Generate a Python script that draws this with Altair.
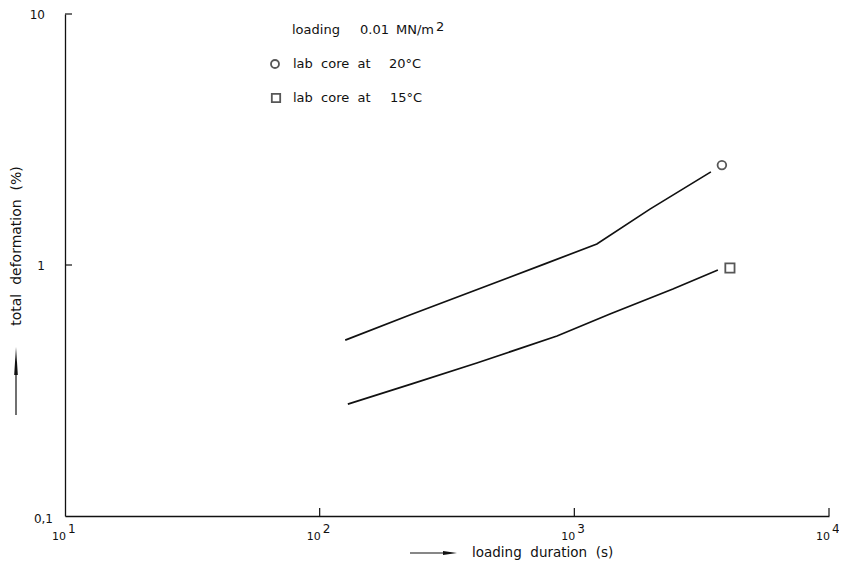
import altair as alt
import pandas as pd

# ---- data ----
dur_20 = [126, 226, 766, 1226, 1981, 3438]
def_20 = [0.502, 0.632, 1.01, 1.213, 1.67, 2.35]
dur_15 = [129, 230, 414, 855, 1380, 2438, 3662]
def_15 = [0.279, 0.336, 0.407, 0.521, 0.638, 0.802, 0.955]
mark_20_x, mark_20_y = [3797], [2.50]
mark_15_x, mark_15_y = [4083], [0.973]

x_tick_vals = [10, 100, 1000, 10000]
x_tick_base = ["10", "10", "10", "10"]
x_tick_exp = ["1", "2", "3", "4"]
y_tick_vals = [10, 1]
y_tick_labels = ["10", "1"]
y_low_val = [0.1]
y_low_label = ["0,1"]

W, H = 764, 502
FONT = "DejaVu Sans"
BLACK = "#111111"
SP = "\u00a0"

xs = alt.Scale(type="log", domain=[10, 10000], nice=False)
ys = alt.Scale(type="log", domain=[0.1, 10], nice=False)

lines_df = pd.DataFrame({
    "dur": dur_20 + dur_15,
    "def": def_20 + def_15,
    "series": ["20"] * len(dur_20) + ["15"] * len(dur_15),
})

axis_common = dict(domainColor=BLACK, domainWidth=1.3, ticks=False, labels=False,
                   grid=False, title=None)

lines = alt.Chart(lines_df).mark_line(color=BLACK, strokeWidth=1.7).encode(
    x=alt.X("dur:Q", scale=xs, axis=alt.Axis(**axis_common)),
    y=alt.Y("def:Q", scale=ys, axis=alt.Axis(**axis_common)),
    detail="series:N",
)

circ = alt.Chart(pd.DataFrame({"x": mark_20_x, "y": mark_20_y})).mark_point(
    shape="circle", filled=False, color=BLACK, size=75, strokeWidth=1.8
).encode(x=alt.X("x:Q", scale=xs), y=alt.Y("y:Q", scale=ys))

sq = alt.Chart(pd.DataFrame({"x": mark_15_x, "y": mark_15_y})).mark_point(
    shape="square", filled=False, color=BLACK, size=85, strokeWidth=1.8
).encode(x=alt.X("x:Q", scale=xs), y=alt.Y("y:Q", scale=ys))

# inward ticks
xt_df = pd.DataFrame({"v": x_tick_vals[1:]})
xticks = alt.Chart(xt_df).mark_rule(color=BLACK, strokeWidth=1.2).encode(
    x=alt.X("v:Q", scale=xs), y=alt.value(H), y2=alt.value(H - 8))
yt_df = pd.DataFrame({"v": y_tick_vals})
yticks = alt.Chart(yt_df).mark_rule(color=BLACK, strokeWidth=1.2).encode(
    y=alt.Y("v:Q", scale=ys), x=alt.value(0), x2=alt.value(7))

# tick labels
xl_df = pd.DataFrame({"v": x_tick_vals, "base": x_tick_base, "exp": x_tick_exp})
xlab_base = alt.Chart(xl_df).mark_text(
    align="right", baseline="middle", font=FONT, fontSize=11, color=BLACK, dx=1
).encode(x=alt.X("v:Q", scale=xs), y=alt.value(H + 21), text="base:N")
xlab_exp = alt.Chart(xl_df).mark_text(
    align="left", baseline="middle", font=FONT, fontSize=12, color=BLACK, dx=3
).encode(x=alt.X("v:Q", scale=xs), y=alt.value(H + 13), text="exp:N")

yl_df = pd.DataFrame({"v": y_tick_vals, "lab": y_tick_labels})
ylab = alt.Chart(yl_df).mark_text(
    align="right", baseline="middle", font=FONT, fontSize=12, color=BLACK, dy=1
).encode(y=alt.Y("v:Q", scale=ys), x=alt.value(-20), text="lab:N")
yl2_df = pd.DataFrame({"v": y_low_val, "lab": y_low_label})
ylab2 = alt.Chart(yl2_df).mark_text(
    align="right", baseline="middle", font=FONT, fontSize=12, color=BLACK, dy=3
).encode(y=alt.Y("v:Q", scale=ys), x=alt.value(-12), text="lab:N")

# annotation / key texts
def txt(s, x, y, size=13, align="left", angle=0):
    return alt.Chart(pd.DataFrame({"t": [s]})).mark_text(
        align=align, baseline="middle", font=FONT, fontSize=size, color=BLACK, angle=angle
    ).encode(x=alt.value(x), y=alt.value(y), text="t:N")

key = [
    txt("loading", 227, 16),
    txt("0.01", 295, 16),
    txt("MN/m", 331, 16),
    txt("2", 371, 13),
    txt(f"lab{SP}{SP}core{SP}{SP}at", 228, 50),
    txt("20°C", 324, 50),
    txt(f"lab{SP}{SP}core{SP}{SP}at", 228, 84),
    txt("15°C", 325, 84),
]
key_circ = alt.Chart(pd.DataFrame({"a": [0]})).mark_point(
    shape="circle", filled=False, color=BLACK, size=64, strokeWidth=1.8
).encode(x=alt.value(210), y=alt.value(50))
key_sq = alt.Chart(pd.DataFrame({"a": [0]})).mark_point(
    shape="square", filled=False, color=BLACK, size=70, strokeWidth=1.8
).encode(x=alt.value(211), y=alt.value(84))

# axis titles with arrows
xtitle = txt(f"loading{SP}{SP}duration{SP}{SP}(s)", 407, 539, size=13.5)
ytitle = txt(f"total{SP}{SP}deformation{SP}{SP}(%)", -48, 232, size=14, align="center", angle=270)

x_arrow_line = alt.Chart(pd.DataFrame({"a": [0]})).mark_rule(color=BLACK, strokeWidth=1.2).encode(
    x=alt.value(345), x2=alt.value(384), y=alt.value(539))
x_arrow_head = alt.Chart(pd.DataFrame({"a": [0]})).mark_point(
    shape="M1,0L-1,0.28L-1,-0.28Z", filled=True, color=BLACK, size=196, strokeWidth=0, opacity=1
).encode(x=alt.value(385), y=alt.value(539))
y_arrow_line = alt.Chart(pd.DataFrame({"a": [0]})).mark_rule(color=BLACK, strokeWidth=1.2).encode(
    x=alt.value(-49), y=alt.value(401), y2=alt.value(351))
y_arrow_head = alt.Chart(pd.DataFrame({"a": [0]})).mark_point(
    shape="M0,-1L0.13,1L-0.13,1Z", filled=True, color=BLACK, size=784, strokeWidth=0, opacity=1
).encode(x=alt.value(-49), y=alt.value(347))

chart = alt.layer(
    lines, circ, sq, xticks, yticks, xlab_base, xlab_exp, ylab, ylab2,
    *key, key_circ, key_sq, xtitle, ytitle,
    x_arrow_line, x_arrow_head, y_arrow_line, y_arrow_head,
).properties(
    width=W, height=H,
    autosize=alt.AutoSizeParams(type="none"),
    padding={"left": 57, "top": 6, "right": 10, "bottom": 45},
    background="white",
).configure_view(stroke=None)

chart.save("out.html", embed_options={"renderer": "svg", "actions": False})
